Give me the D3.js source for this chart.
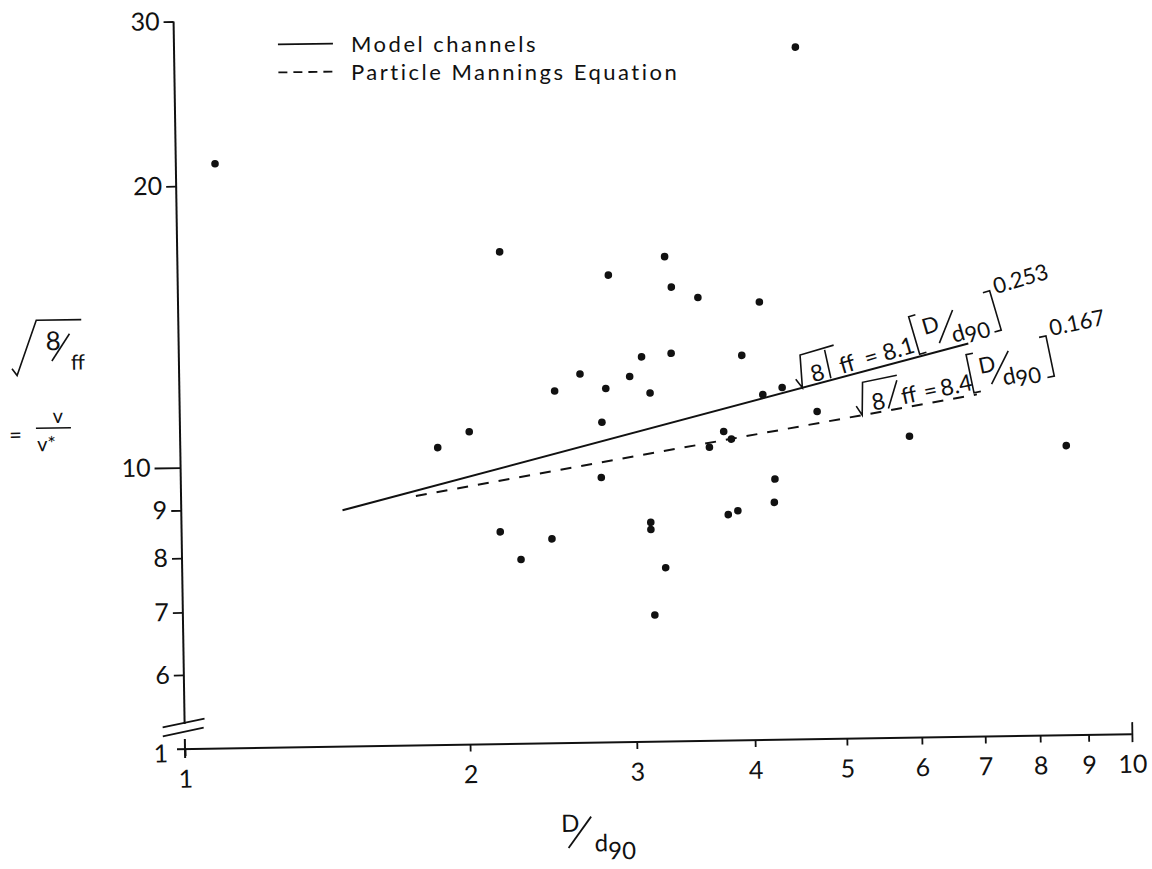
<!DOCTYPE html>
<html>
<head>
<meta charset="utf-8">
<script src="https://cdn.jsdelivr.net/npm/d3@7"></script>
<style>
  html, body { margin: 0; padding: 0; background: #fff; }
  svg { display: block; }
  text { font-family: Lato, "Open Sans", sans-serif; fill: #111; }
</style>
</head>
<body>
<svg id="chart" width="1152" height="869"></svg>
<script>
// Relative roughness D/d90 and resistance sqrt(8/ff) for each channel run
const ratioD = [2.19, 2.65, 2.49, 2.02, 1.87, 2.17, 2.46, 2.28, 3.27, 2.85,
                3.32, 3.54, 4.11, 3.08, 3.31, 3.93, 2.99, 2.82, 3.14, 4.13,
                4.33, 4.71, 2.79, 3.75, 3.82, 3.62, 2.78, 4.24, 4.23, 3.87,
                3.78, 3.13, 3.13, 3.24, 3.15, 5.89, 8.62, 1.10, 4.53];
const resistance = [16.8, 12.4, 11.9, 10.8, 10.4, 8.43, 8.27, 7.87, 16.5, 15.8,
                    15.3, 14.9, 14.7, 12.9, 13.0, 12.9, 12.3, 11.95, 11.8, 11.7,
                    11.9, 11.2, 11.0, 10.7, 10.5, 10.3, 9.6, 9.5, 8.97, 8.8,
                    8.72, 8.58, 8.43, 7.67, 6.83, 10.5, 10.2, 21.1, 27.5];

// Fitted power laws: sqrt(8/ff) = coef * (D/d90)^exp
const fitNames = ["Model channels", "Particle Mannings Equation"];
const fitCoef = [8.1, 8.4];
const fitExp = [0.253, 0.167];
const fitFrom = [1.48, 1.77];
const fitTo = [6.82, 6.95];
const fitLabelAt = [4.5, 5.2];

const xTicks = [1, 2, 3, 4, 5, 6, 7, 8, 9, 10];
const yTicks = [6, 7, 8, 9, 10, 20, 30];

const svg = d3.select("#chart");
const ox = 185, oy = 749;           // axis origin
const decadeX = 947, decadeY = 935; // pixels per decade

const x = d3.scaleLog().domain([1, 10]).range([ox, ox + decadeX]);
const y = d3.scaleLog().domain([5, 30]).range([oy, oy - decadeY * Math.log10(6)]);

// the whole sheet sits slightly askew
const g = svg.append("g").attr("transform", `rotate(-0.9, ${ox}, ${oy})`);

const ink = "#111";
const tickFont = 25;

// ---- y axis with a break near the origin
g.append("line").attr("x1", ox).attr("x2", ox)
  .attr("y1", y(30)).attr("y2", 724)
  .attr("stroke", ink).attr("stroke-width", 2);
g.append("line").attr("x1", ox).attr("x2", ox)
  .attr("y1", 739).attr("y2", 758)
  .attr("stroke", ink).attr("stroke-width", 2);
g.append("line").attr("x1", 163).attr("y1", 727).attr("x2", 205).attr("y2", 719)
  .attr("stroke", ink).attr("stroke-width", 1.8);
g.append("line").attr("x1", 163).attr("y1", 736).attr("x2", 204).attr("y2", 728)
  .attr("stroke", ink).attr("stroke-width", 1.8);

const yAxis = g.append("g").attr("transform", `translate(${ox},0)`)
  .call(d3.axisLeft(y).tickValues(yTicks).tickSize(10).tickPadding(4)
    .tickFormat(d3.format("d")));
yAxis.select(".domain").remove();
yAxis.selectAll("line").attr("stroke", ink).attr("stroke-width", 1.8);
yAxis.selectAll("text").attr("font-size", tickFont)
  .attr("font-family", "Lato, 'Open Sans', sans-serif").attr("fill", ink);
yAxis.selectAll(".tick").filter(d => d === 10)
  .call(t => {
    t.select("line").attr("x2", -26);
    t.select("text").attr("x", -30);
  });

// origin label of the broken axis
g.append("text").attr("x", 168).attr("y", 762).attr("text-anchor", "end")
  .attr("font-size", tickFont).text("1");

// ---- x axis
g.append("line").attr("x1", 177).attr("x2", x(10))
  .attr("y1", oy).attr("y2", oy)
  .attr("stroke", ink).attr("stroke-width", 2);
const xAxis = g.append("g").attr("transform", `translate(0,${oy})`)
  .call(d3.axisBottom(x).tickValues(xTicks).tickSize(7).tickPadding(14)
    .tickFormat(d3.format("d")));
xAxis.select(".domain").remove();
xAxis.selectAll("line").attr("stroke", ink).attr("stroke-width", 1.8);
xAxis.selectAll("text").attr("font-size", tickFont)
  .attr("font-family", "Lato, 'Open Sans', sans-serif").attr("fill", ink);
xAxis.selectAll(".tick").filter(d => d === 10).select("line")
  .attr("y1", -12).attr("y2", 8);

// ---- fitted lines
const dashes = [null, "11,10"];
fitCoef.forEach((c, i) => {
  const p0 = [fitFrom[i], c * Math.pow(fitFrom[i], fitExp[i])];
  const p1 = [fitTo[i], c * Math.pow(fitTo[i], fitExp[i])];
  g.append("path")
    .attr("d", d3.line().x(d => x(d[0])).y(d => y(d[1]))([p0, p1]))
    .attr("fill", "none").attr("stroke", ink).attr("stroke-width", 2)
    .attr("stroke-dasharray", dashes[i]);
});

// ---- observations
g.append("g").selectAll("circle")
  .data(ratioD.map((d, i) => [d, resistance[i]]))
  .join("circle")
  .attr("cx", d => x(d[0])).attr("cy", d => y(d[1]))
  .attr("r", 3.8).attr("fill", ink);

// ---- equation labels laid along each line
// horizontal offsets (along the baseline) of each piece of the label
const eqLayout = [
  { bar: 46, root: "M34,1 L36,-28", eq: 72, coef: 91, lb: 126, D: 136,
    sl: [148, -2, 170, -30], d: 162, rb: 211, sup: 216, supY: -33 },
  { bar: 46, root: "M31,1 L45,-25", eq: 69, coef: 86, lb: 118, D: 128,
    sl: [137, -2, 160, -31], d: 149, rb: 200, sup: 205, supY: -37 }
];
function equation(i, tilt) {
  const c = fitCoef[i], e = fitExp[i], L = eqLayout[i];
  const a0 = fitFrom[i], a1 = fitTo[i];
  const ang = Math.atan2(y(c * Math.pow(a1, e)) - y(c * Math.pow(a0, e)),
                         x(a1) - x(a0)) * 180 / Math.PI + tilt;
  const xa = fitLabelAt[i], ya = c * Math.pow(xa, e);
  const eq = g.append("g")
    .attr("transform", `translate(${x(xa)},${y(ya) - 2}) rotate(${ang})`);
  const fs = 23, lw = 1.6;
  // root sign over 8/
  eq.append("path").attr("d", `M0,-8 L4,2 L11,-30 L${L.bar},-30`)
    .attr("fill", "none").attr("stroke", ink).attr("stroke-width", lw);
  eq.append("text").attr("x", 16).attr("y", 0).attr("font-size", fs).text("8");
  eq.append("path").attr("d", L.root).attr("stroke", ink).attr("stroke-width", lw);
  eq.append("text").attr("x", L.bar).attr("y", 0).attr("font-size", fs).text("ff");
  eq.append("text").attr("x", L.eq).attr("y", 0).attr("font-size", fs).text("=");
  eq.append("text").attr("x", L.coef).attr("y", 0).attr("font-size", fs)
    .text(d3.format(".1f")(c));
  eq.append("path").attr("d", `M${L.lb + 7},-36 H${L.lb} V3 H${L.lb + 7}`)
    .attr("fill", "none").attr("stroke", ink).attr("stroke-width", lw);
  eq.append("text").attr("x", L.D).attr("y", -14).attr("font-size", fs - 1).text("D");
  eq.append("path").attr("d", `M${L.sl[0]},${L.sl[1]} L${L.sl[2]},${L.sl[3]}`)
    .attr("stroke", ink).attr("stroke-width", lw);
  const dt = eq.append("text").attr("x", L.d).attr("y", 2).attr("font-size", fs);
  dt.append("tspan").text("d");
  dt.append("tspan").attr("dy", 4).attr("font-size", fs - 1).text("90");
  eq.append("path").attr("d", `M${L.rb - 7},-38 H${L.rb} V3 H${L.rb - 7}`)
    .attr("fill", "none").attr("stroke", ink).attr("stroke-width", lw);
  eq.append("text").attr("x", L.sup).attr("y", L.supY).attr("font-size", fs - 1)
    .text(d3.format(".3f")(e));
}
equation(0, -1.5);
equation(1, -1.5);

// ---- legend (keys follow the sheet's tilt, names are set level)
fitNames.forEach((name, i) => {
  const ly = 46 + i * 28;
  g.append("line").attr("x1", 289).attr("x2", 344)
    .attr("y1", ly).attr("y2", ly)
    .attr("stroke", ink).attr("stroke-width", 1.8)
    .attr("stroke-dasharray", i ? "9,6" : null);
  svg.append("text").attr("x", 351).attr("y", 52 + i * 28)
    .attr("font-size", 22).attr("letter-spacing", 2.5).text(name);
});

// ---- y axis title: sqrt(8/ff) = v / v*
const yt = g.append("g");
yt.append("path").attr("d", "M18,366 L23,373 L43,318 L88,318")
  .attr("fill", "none").attr("stroke", ink).attr("stroke-width", 1.6);
yt.append("text").attr("x", 52).attr("y", 348).attr("font-size", 26).text("8");
yt.append("path").attr("d", "M58,359 L76,332").attr("stroke", ink).attr("stroke-width", 1.6);
yt.append("text").attr("x", 77).attr("y", 368).attr("font-size", 21).text("ff");
yt.append("text").attr("x", 14).attr("y", 440).attr("font-size", 22).text("=");
yt.append("text").attr("x", 58).attr("y", 421).attr("font-size", 20).text("v");
yt.append("line").attr("x1", 41).attr("x2", 76).attr("y1", 426).attr("y2", 426)
  .attr("stroke", ink).attr("stroke-width", 1.6);
yt.append("text").attr("x", 42).attr("y", 449).attr("font-size", 20).text("v*");

// ---- x axis title: D/d90
const xt = g.append("g");
xt.append("text").attr("x", 560).attr("y", 838).attr("font-size", 24).text("D");
xt.append("path").attr("d", "M567,854 L590,823").attr("stroke", ink).attr("stroke-width", 1.8);
const xd = xt.append("text").attr("x", 593).attr("y", 858).attr("font-size", 24);
xd.append("tspan").text("d");
xd.append("tspan").attr("dy", 8).attr("font-size", 24).text("90");
</script>
</body>
</html>
